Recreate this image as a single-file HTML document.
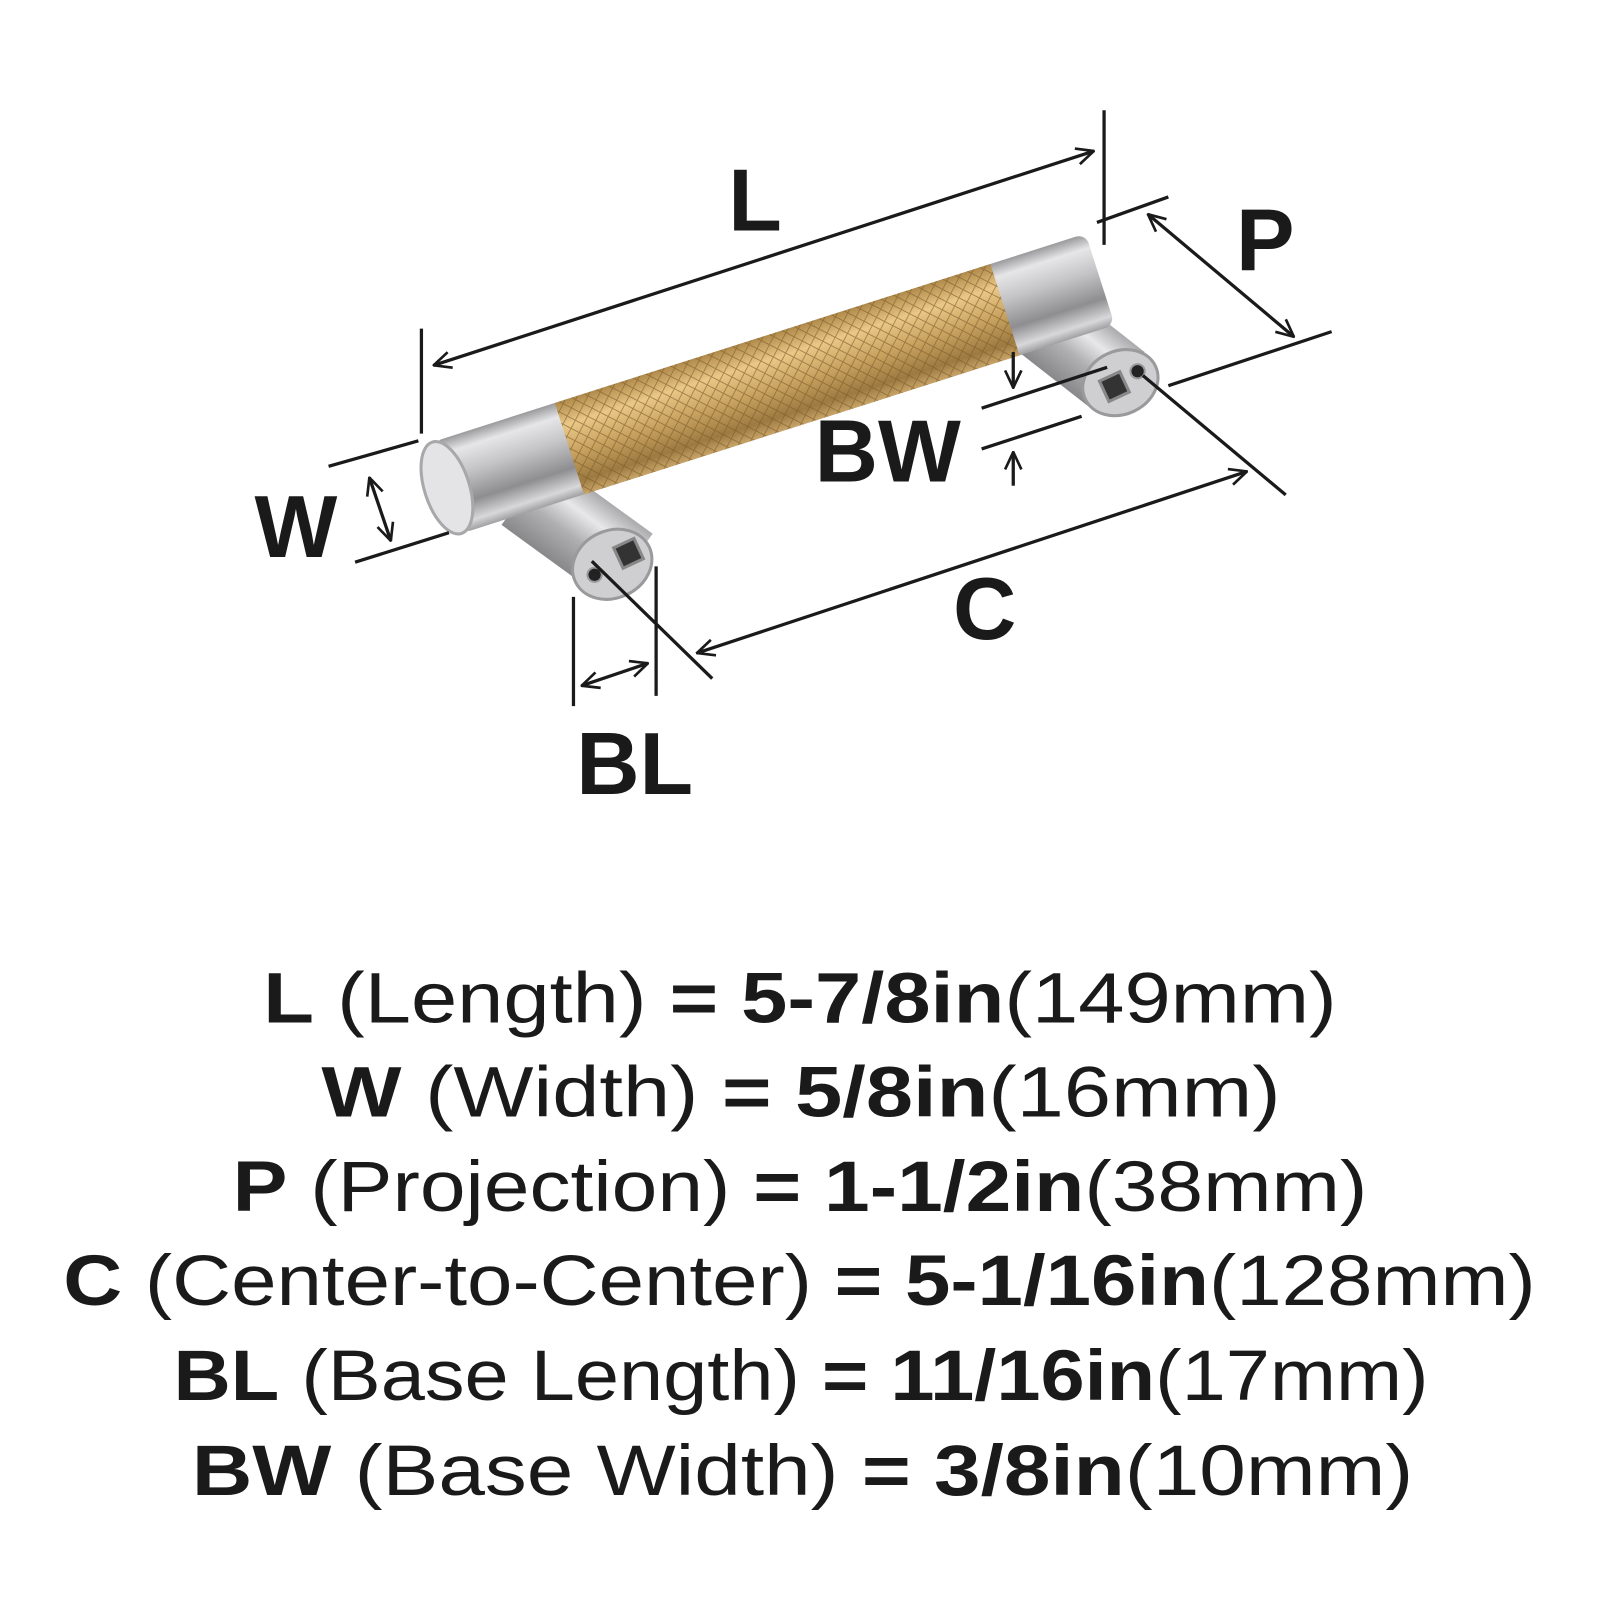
<!DOCTYPE html>
<html><head><meta charset="utf-8"><style>
html,body{margin:0;padding:0;background:#fff;width:1600px;height:1600px;overflow:hidden}
svg{display:block}
</style></head><body>
<svg width="1600" height="1600" viewBox="0 0 1600 1600" xmlns="http://www.w3.org/2000/svg">
<defs>
<linearGradient id="chr" x1="0" y1="0" x2="0" y2="1">
<stop offset="0" stop-color="#9a9a9c"/><stop offset="0.15" stop-color="#e6e6e8"/><stop offset="0.4" stop-color="#c4c4c6"/><stop offset="0.7" stop-color="#8e8e90"/><stop offset="0.9" stop-color="#d8d8da"/><stop offset="1" stop-color="#a0a0a2"/>
</linearGradient>
<linearGradient id="gold" x1="0" y1="0" x2="0" y2="1">
<stop offset="0" stop-color="#b08a4a"/><stop offset="0.25" stop-color="#eac887"/><stop offset="0.55" stop-color="#c9a260"/><stop offset="0.85" stop-color="#9c7a40"/><stop offset="1" stop-color="#c8a468"/>
</linearGradient>
<pattern id="knurl" width="9" height="9" patternUnits="userSpaceOnUse" patternTransform="rotate(45)">
<path d="M0 0H9M0 0V9" stroke="#7a5a28" stroke-width="1.8" opacity="0.6"/>
</pattern>
<linearGradient id="post" x1="0" y1="0" x2="0" y2="1">
<stop offset="0" stop-color="#aaaaac"/><stop offset="0.3" stop-color="#e8e8ea"/><stop offset="0.6" stop-color="#b0b0b2"/><stop offset="1" stop-color="#88888a"/>
</linearGradient>
<marker id="ah" viewBox="0 0 20 20" refX="19" refY="10" markerWidth="20" markerHeight="20" markerUnits="userSpaceOnUse" orient="auto-start-reverse">
<path d="M2 2L19 10L2 18" fill="none" stroke="#1a1a1a" stroke-width="2.6"/>
</marker>
</defs>
<g transform="scale(1.0204)">
<!-- posts (behind bar) -->
<g transform="translate(1000,298) rotate(38)">
<rect x="0" y="-38" width="125" height="76" fill="url(#post)"/>
</g>
<g transform="translate(515,482) rotate(36)">
<rect x="0" y="-40" width="125" height="80" fill="url(#post)"/>
</g>

<!-- bar -->
<g transform="translate(438,478) rotate(-17.7)">
<rect x="0" y="-47" width="672" height="94" rx="10" fill="url(#chr)"/>
<rect x="126" y="-47" width="448" height="94" fill="url(#gold)"/>
<rect x="126" y="-47" width="448" height="94" fill="url(#knurl)"/>
<ellipse cx="0" cy="0" rx="22" ry="47" fill="#e4e4e6" stroke="#a8a8aa" stroke-width="3"/>
</g>

<!-- post ends -->
<g transform="translate(600,553) rotate(-25)">
<ellipse cx="0" cy="0" rx="40" ry="33" fill="#cfcfd1" stroke="#9a9a9c" stroke-width="3"/>
<rect x="8" y="-14" width="22" height="22" fill="#333" stroke="#888" stroke-width="3"/>
<circle cx="-20" cy="2" r="7" fill="#222" stroke="#999" stroke-width="2"/>
</g>
<g transform="translate(1098,375) rotate(-25)">
<ellipse cx="0" cy="0" rx="38" ry="31" fill="#cfcfd1" stroke="#9a9a9c" stroke-width="3"/>
<rect x="-18" y="-10" width="22" height="22" fill="#333" stroke="#888" stroke-width="3"/>
<circle cx="20" cy="-3" r="7" fill="#222" stroke="#999" stroke-width="2"/>
</g>

<!-- dimension lines -->
<g stroke="#1a1a1a" stroke-width="3.2" fill="none">
<line x1="413" y1="322" x2="413" y2="425"/>
<line x1="1082" y1="108" x2="1082" y2="240"/>
<line x1="425" y1="358" x2="1072" y2="148" marker-start="url(#ah)" marker-end="url(#ah)"/>
<line x1="1075" y1="218" x2="1145" y2="193"/>
<line x1="1145" y1="378" x2="1305" y2="325"/>
<line x1="1125" y1="210" x2="1268" y2="330" marker-start="url(#ah)" marker-end="url(#ah)"/>
<line x1="322" y1="457" x2="410" y2="432"/>
<line x1="348" y1="551" x2="440" y2="522"/>
<line x1="362" y1="468" x2="383" y2="530" marker-start="url(#ah)" marker-end="url(#ah)"/>
<line x1="962" y1="400" x2="1085" y2="360"/>
<line x1="962" y1="440" x2="1060" y2="408"/>
<line x1="993" y1="345" x2="993" y2="380" marker-end="url(#ah)"/>
<line x1="993" y1="476" x2="993" y2="443" marker-end="url(#ah)"/>
<line x1="580" y1="550" x2="698" y2="665"/>
<line x1="1120" y1="368" x2="1260" y2="485"/>
<line x1="683" y1="640" x2="1222" y2="462" marker-start="url(#ah)" marker-end="url(#ah)"/>
<line x1="562" y1="585" x2="562" y2="692"/>
<line x1="643" y1="555" x2="643" y2="682"/>
<line x1="570" y1="672" x2="635" y2="650" marker-start="url(#ah)" marker-end="url(#ah)"/>
</g>

<g font-family="Liberation Sans, sans-serif" font-weight="bold" font-size="86" fill="#1a1a1a" text-anchor="middle">
<text x="740" y="226">L</text>
<text x="1240" y="265">P</text>
<text x="290" y="546">W</text>
<text x="870" y="472">BW</text>
<text x="965" y="626">C</text>
<text x="622" y="778">BL</text>
</g>

<g font-family="Liberation Sans, sans-serif" font-size="70" fill="#1a1a1a">
<text x="258" y="1002" textLength="1052" lengthAdjust="spacingAndGlyphs"><tspan font-weight="bold">L</tspan> (Length) <tspan font-weight="bold">= 5-7/8in</tspan>(149mm)</text>
<text x="315" y="1094" textLength="940" lengthAdjust="spacingAndGlyphs"><tspan font-weight="bold">W</tspan> (Width) <tspan font-weight="bold">= 5/8in</tspan>(16mm)</text>
<text x="228" y="1187" textLength="1112" lengthAdjust="spacingAndGlyphs"><tspan font-weight="bold">P</tspan> (Projection) <tspan font-weight="bold">= 1-1/2in</tspan>(38mm)</text>
<text x="62" y="1279" textLength="1443" lengthAdjust="spacingAndGlyphs"><tspan font-weight="bold">C</tspan> (Center-to-Center) <tspan font-weight="bold">= 5-1/16in</tspan>(128mm)</text>
<text x="170" y="1372" textLength="1230" lengthAdjust="spacingAndGlyphs"><tspan font-weight="bold">BL</tspan> (Base Length) <tspan font-weight="bold">= 11/16in</tspan>(17mm)</text>
<text x="188" y="1465" textLength="1197" lengthAdjust="spacingAndGlyphs"><tspan font-weight="bold">BW</tspan> (Base Width) <tspan font-weight="bold">= 3/8in</tspan>(10mm)</text>
</g>
</g>
</svg>
</body></html>
